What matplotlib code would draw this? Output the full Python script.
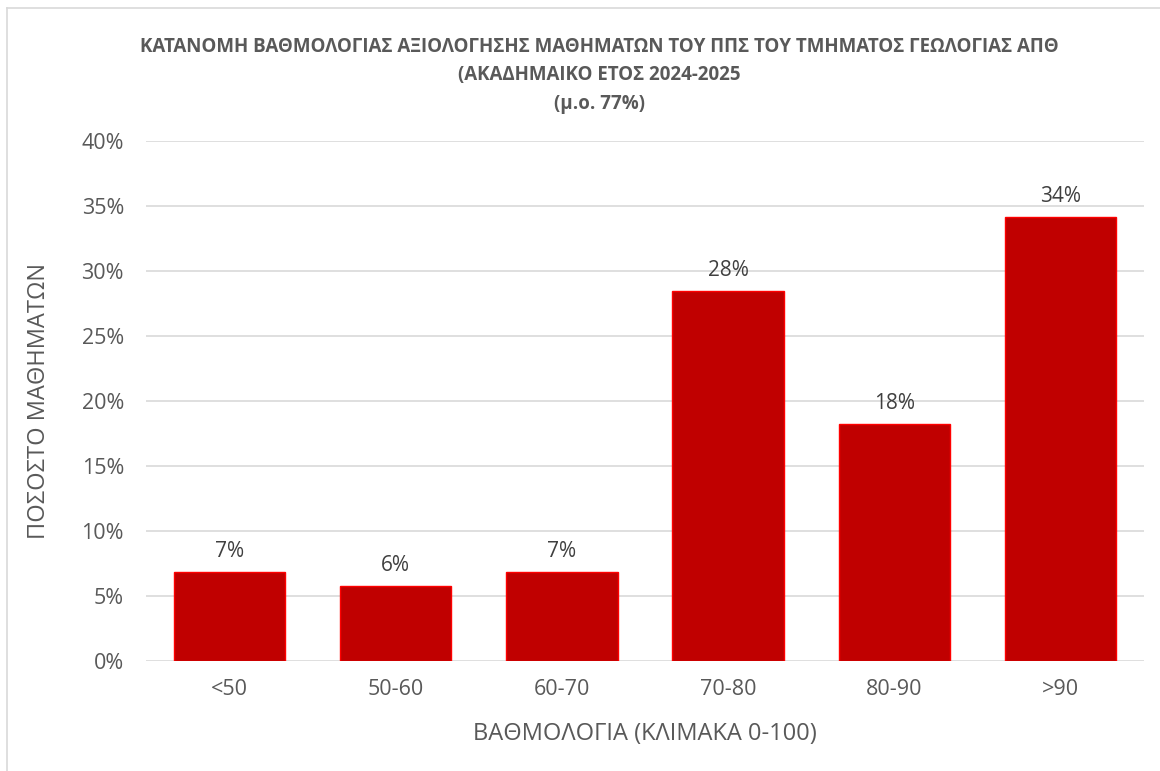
import matplotlib.pyplot as plt
import numpy as np
from matplotlib.lines import Line2D
from matplotlib.ticker import PercentFormatter

plt.rcParams['font.family'] = ['Open Sans', 'DejaVu Sans']

categories = ['<50', '50-60', '60-70', '70-80', '80-90', '>90']
values = [6.85, 5.75, 6.85, 28.45, 18.2, 34.15]
labels = ['7%', '6%', '7%', '28%', '18%', '34%']

title = ('ΚΑΤΑΝΟΜΗ ΒΑΘΜΟΛΟΓΙΑΣ ΑΞΙΟΛΟΓΗΣΗΣ ΜΑΘΗΜΑΤΩΝ ΤΟΥ ΠΠΣ ΤΟΥ ΤΜΗΜΑΤΟΣ ΓΕΩΛΟΓΙΑΣ ΑΠΘ\n'
         '(ΑΚΑΔΗΜΑΙΚΟ ΕΤΟΣ 2024-2025\n(μ.ο. 77%)')

text_col = '#595959'
fig = plt.figure(figsize=(11.6, 7.71), dpi=100)
ax = fig.add_axes([0.126, 0.1427, 0.86, 0.6744])

x = np.arange(len(categories))
ax.bar(x, values, width=0.67, color='#c00000', edgecolor='#ff0000', linewidth=1, zorder=3)
for xi, v, lab in zip(x, values, labels):
    ax.text(xi, v + 0.8, lab, ha='center', va='bottom', fontsize=15, color='#404040')

ax.set_xlim(-0.5, len(categories) - 0.5)
ax.set_ylim(0, 40)
ax.set_yticks(np.arange(0, 41, 5))
ax.yaxis.set_major_formatter(PercentFormatter(decimals=0))
ax.set_xticks(x)
ax.set_xticklabels(categories)
ax.tick_params(axis='both', length=0, labelsize=15.5, labelcolor=text_col)
ax.tick_params(axis='x', pad=13)
ax.tick_params(axis='y', pad=16)
ax.grid(axis='y', color='#d9d9d9', linewidth=1.2, zorder=0)
for s in ax.spines.values():
    s.set_visible(False)

ax.set_xlabel('ΒΑΘΜΟΛΟΓΙΑ (ΚΛΙΜΑΚΑ 0-100)', fontsize=17, color=text_col, labelpad=16)
ax.set_ylabel('ΠΟΣΟΣΤΟ ΜΑΘΗΜΑΤΩΝ', fontsize=17, color=text_col, labelpad=22)

fig.text(0.517, 0.952, title, ha='center', va='top', fontsize=13.5, fontweight='bold',
         color=text_col, linespacing=1.55)

# chart border (only top and left visible in the crop)
fig.add_artist(Line2D([7 / 1160, 1], [1 - 8 / 771, 1 - 8 / 771], color='#d9d9d9', lw=1.2))
fig.add_artist(Line2D([7 / 1160, 7 / 1160], [0, 1 - 8 / 771], color='#d9d9d9', lw=1.2))

fig.savefig('out.png', dpi=100)
